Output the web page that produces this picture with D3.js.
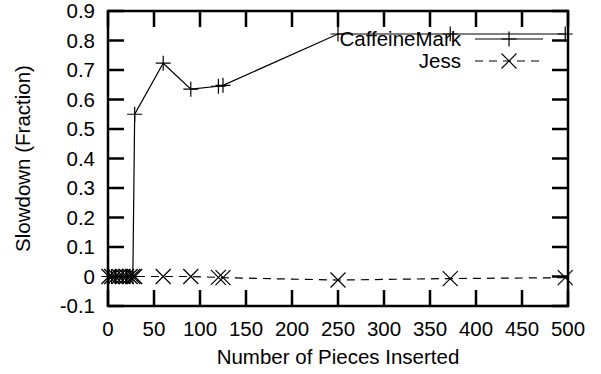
<!DOCTYPE html>
<html>
<head>
<meta charset="utf-8">
<title>Slowdown vs pieces inserted</title>
<script src="https://d3js.org/d3.v7.min.js"></script>
<style>
  body { margin: 0; background: #fff; }
  text { font-family: "Liberation Sans", Arial, sans-serif; fill: #000; }
</style>
</head>
<body>
<script>
// pieces inserted (x) for both series
var pieces = [1, 4, 8, 12, 16, 20, 24, 27, 29, 60, 90, 120, 125, 250, 372, 497];
var caffeine = [0, 0, 0, 0, 0, 0, 0, 0, 0.55, 0.723, 0.635, 0.645, 0.648, 0.822, 0.822, 0.822];
var jess = [0, 0, 0, 0, 0, 0, 0, 0, 0, 0, 0, -0.003, -0.004, -0.012, -0.007, -0.004];
var xTicks = [0, 50, 100, 150, 200, 250, 300, 350, 400, 450, 500];
var yTicks = [-0.1, 0, 0.1, 0.2, 0.3, 0.4, 0.5, 0.6, 0.7, 0.8, 0.9];

var W = 601, H = 374;
var pLeft = 108, pRight = 568, pTop = 11, pBottom = 306;
var fs = 20.5;

var svg = d3.select("body").append("svg")
  .attr("width", W).attr("height", H);

var x = d3.scaleLinear().domain([0, 500]).range([pLeft, pRight]);
var y = d3.scaleLinear().domain([-0.1, 0.9]).range([pBottom, pTop]);

var tickLen = 16;
var frame = svg.append("g");

// ticks, mirrored on all four sides
xTicks.forEach(function (t) {
  frame.append("line").attr("x1", x(t)).attr("x2", x(t))
    .attr("y1", pBottom).attr("y2", pBottom - tickLen);
  frame.append("line").attr("x1", x(t)).attr("x2", x(t))
    .attr("y1", pTop).attr("y2", pTop + tickLen);
});
yTicks.forEach(function (t) {
  frame.append("line").attr("x1", pLeft).attr("x2", pLeft + tickLen)
    .attr("y1", y(t)).attr("y2", y(t));
  frame.append("line").attr("x1", pRight).attr("x2", pRight - tickLen)
    .attr("y1", y(t)).attr("y2", y(t));
});
frame.selectAll("line").attr("stroke", "#000").attr("stroke-width", 2.5);

frame.append("rect")
  .attr("x", pLeft).attr("y", pTop)
  .attr("width", pRight - pLeft).attr("height", pBottom - pTop)
  .attr("fill", "none").attr("stroke", "#000").attr("stroke-width", 2.5);

// tick labels
svg.selectAll(".xl").data(xTicks).enter().append("text")
  .attr("x", function (d) { return x(d); })
  .attr("y", 336)
  .attr("text-anchor", "middle")
  .attr("font-size", fs)
  .text(function (d) { return d; });

svg.selectAll(".yl").data(yTicks).enter().append("text")
  .attr("x", 95)
  .attr("y", function (d) { return y(d) + 7; })
  .attr("text-anchor", "end")
  .attr("font-size", fs)
  .text(function (d) { return String(+d.toFixed(1)); });

// axis titles
svg.append("text")
  .attr("x", x(250)).attr("y", 364)
  .attr("text-anchor", "middle").attr("font-size", fs)
  .text("Number of Pieces Inserted");
svg.append("text")
  .attr("transform", "translate(30," + ((pTop + pBottom) / 2) + ") rotate(-90)")
  .attr("text-anchor", "middle").attr("font-size", fs)
  .text("Slowdown (Fraction)");

var line = d3.line()
  .x(function (d) { return x(d[0]); })
  .y(function (d) { return y(d[1]); });

var cData = pieces.map(function (p, i) { return [p, caffeine[i]]; });
var jData = pieces.map(function (p, i) { return [p, jess[i]]; });

function plus(g, cx, cy) {
  var s = 7.5;
  g.append("path")
    .attr("d", "M" + (cx - s) + "," + cy + "H" + (cx + s) + "M" + cx + "," + (cy - s) + "V" + (cy + s))
    .attr("stroke", "#000").attr("stroke-width", 1.2).attr("fill", "none");
}
function cross(g, cx, cy) {
  var s = 7.5;
  g.append("path")
    .attr("d", "M" + (cx - s) + "," + (cy - s) + "L" + (cx + s) + "," + (cy + s) +
               "M" + (cx - s) + "," + (cy + s) + "L" + (cx + s) + "," + (cy - s))
    .attr("stroke", "#000").attr("stroke-width", 1.2).attr("fill", "none");
}

var plot = svg.append("g");
plot.append("path").datum(cData).attr("d", line)
  .attr("fill", "none").attr("stroke", "#000").attr("stroke-width", 1.2);
plot.append("path").datum(jData).attr("d", line)
  .attr("fill", "none").attr("stroke", "#000").attr("stroke-width", 1.2)
  .attr("stroke-dasharray", "8,6");
cData.forEach(function (d) { plus(plot, x(d[0]), y(d[1])); });
jData.forEach(function (d) { cross(plot, x(d[0]), y(d[1])); });

// legend
var lg = svg.append("g");
var names = ["CaffeineMark", "Jess"];
names.forEach(function (n, i) {
  var ly = 39 + i * 22;
  lg.append("text").attr("x", 461).attr("y", ly + 7)
    .attr("text-anchor", "end").attr("font-size", fs).text(n);
  var l = lg.append("line").attr("x1", 475).attr("x2", 543)
    .attr("y1", ly).attr("y2", ly)
    .attr("stroke", "#000").attr("stroke-width", 1.2);
  if (i === 1) { l.attr("stroke-dasharray", "8,6"); cross(lg, 509, ly); }
  else plus(lg, 509, ly);
});
</script>
</body>
</html>
